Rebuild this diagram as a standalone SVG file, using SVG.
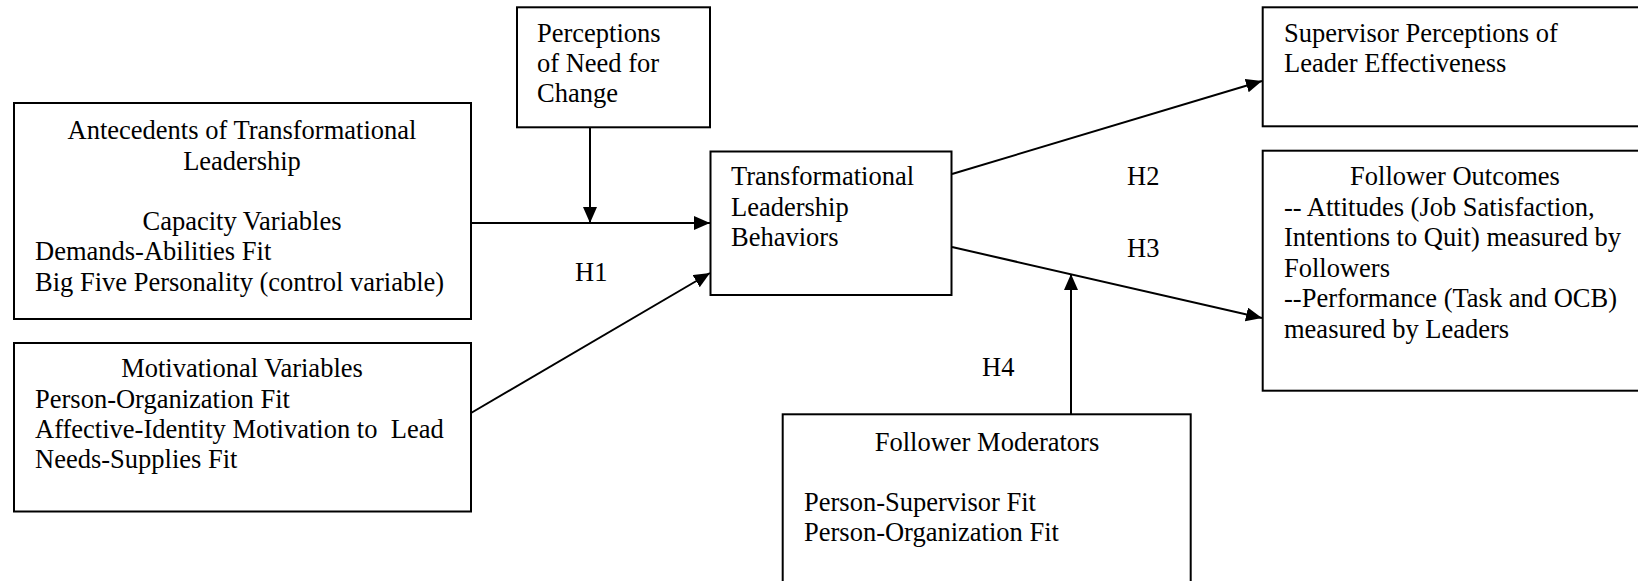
<svg xmlns="http://www.w3.org/2000/svg" width="1638" height="581" viewBox="0 0 1638 581">
<style>
.box{fill:#fff;stroke:#000;stroke-width:2}
.t{font-family:"Liberation Serif","Times New Roman",serif;font-size:26.5px;fill:#000}
.c{text-anchor:middle}
.ln{stroke:#000;stroke-width:2;fill:none}
</style>
<defs>
<marker id="ah" markerUnits="userSpaceOnUse" markerWidth="17" markerHeight="15" refX="16" refY="7" orient="auto">
<path d="M0,0 L16,7 L0,14 z" fill="#000"/>
</marker>
</defs>
<rect width="1638" height="581" fill="#fff"/>
<g id="connectors">
<line class="ln" x1="471" y1="223" x2="710" y2="223" marker-end="url(#ah)"/>
<line class="ln" x1="590" y1="127" x2="590" y2="223" marker-end="url(#ah)"/>
<line class="ln" x1="471" y1="413" x2="710" y2="273" marker-end="url(#ah)"/>
<line class="ln" x1="952" y1="174" x2="1262" y2="81" marker-end="url(#ah)"/>
<line class="ln" x1="952" y1="247" x2="1262" y2="318" marker-end="url(#ah)"/>
<line class="ln" x1="1071" y1="414" x2="1071" y2="274" marker-end="url(#ah)"/>
<text class="t" x="575" y="281">H1</text>
<text class="t" x="1127" y="185">H2</text>
<text class="t" x="1127" y="257">H3</text>
<text class="t" x="982" y="376">H4</text>
</g>
<g id="antecedents">
<rect class="box" x="14" y="103" width="457" height="216"/>
<text class="t c" x="242" y="139.3">Antecedents of Transformational</text>
<text class="t c" x="242" y="169.6">Leadership</text>
<text class="t c" x="242" y="230">Capacity Variables</text>
<text class="t" x="35" y="260.3">Demands-Abilities Fit</text>
<text class="t" x="35" y="290.6">Big Five Personality (control variable)</text>
</g>
<g id="motivational">
<rect class="box" x="14" y="343" width="457" height="168.5"/>
<text class="t c" x="242" y="377.2">Motivational Variables</text>
<text class="t" x="35" y="407.5">Person-Organization Fit</text>
<text class="t" x="35" y="437.8" xml:space="preserve">Affective-Identity Motivation to  Lead</text>
<text class="t" x="35" y="468.1">Needs-Supplies Fit</text>
</g>
<g id="perceptions">
<rect class="box" x="517" y="7.3" width="193" height="120"/>
<text class="t" x="537" y="41.7">Perceptions</text>
<text class="t" x="537" y="72">of Need for</text>
<text class="t" x="537" y="102.3">Change</text>
</g>
<g id="transformational">
<rect class="box" x="710.5" y="151.5" width="241" height="143.5"/>
<text class="t" x="731" y="185">Transformational</text>
<text class="t" x="731" y="215.5">Leadership</text>
<text class="t" x="731" y="246">Behaviors</text>
</g>
<g id="supervisor">
<rect class="box" x="1262.7" y="7.3" width="390" height="119"/>
<text class="t" x="1284" y="41.7">Supervisor Perceptions of</text>
<text class="t" x="1284" y="72.3">Leader Effectiveness</text>
</g>
<g id="outcomes">
<rect class="box" x="1262.7" y="150.7" width="390" height="240"/>
<text class="t c" x="1455" y="185">Follower Outcomes</text>
<text class="t" x="1284" y="215.5">-- Attitudes (Job Satisfaction,</text>
<text class="t" x="1284" y="246">Intentions to Quit) measured by</text>
<text class="t" x="1284" y="276.5">Followers</text>
<text class="t" x="1284" y="307">--Performance (Task and OCB)</text>
<text class="t" x="1284" y="337.5">measured by Leaders</text>
</g>
<g id="moderators">
<rect class="box" x="782.7" y="414.3" width="408" height="180"/>
<text class="t c" x="987" y="450.7">Follower Moderators</text>
<text class="t" x="804" y="511">Person-Supervisor Fit</text>
<text class="t" x="804" y="541.3">Person-Organization Fit</text>
</g>
</svg>
